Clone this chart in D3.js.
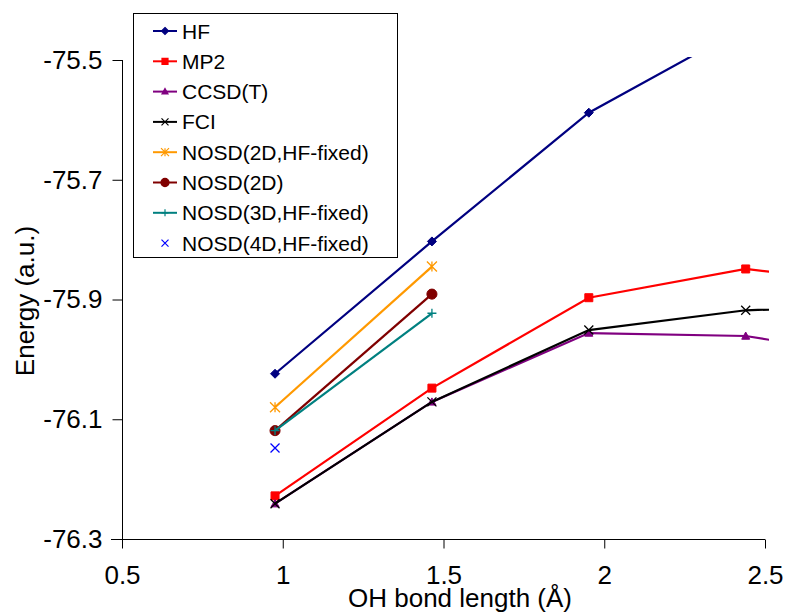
<!DOCTYPE html>
<html>
<head>
<meta charset="utf-8">
<script src="https://cdn.jsdelivr.net/npm/d3@7"></script>
<style>
  body { margin: 0; background: #fff; }
  text { font-family: "Liberation Sans", Arial, sans-serif; fill: #000; }
</style>
</head>
<body>
<div id="chart"></div>
<script>
// bond lengths (Å) and energies (a.u.)
var bondLength = [0.976, 1.464, 1.952, 2.44, 2.928];
var hf       = [-76.024, -75.803, -75.588, -75.444];
var mp2      = [-76.228, -76.048, -75.897, -75.849, -75.880];
var ccsdt    = [-76.241, -76.071, -75.956, -75.961, -76.003];
var fci      = [-76.241, -76.071, -75.951, -75.918, -75.910];
var nosd2dHF = [-76.080, -75.845];
var nosd2d   = [-76.119, -75.891];
var nosd3dHF = [-76.119, -75.923];
var nosd4dHF = [-76.148];

var xTicks = [0.5, 1, 1.5, 2, 2.5];
var yTicks = [-76.3, -76.1, -75.9, -75.7, -75.5];

var series = [
  {name: "HF", values: hf, color: "#000080", marker: "diamond", line: true},
  {name: "MP2", values: mp2, color: "#ff0000", marker: "square", line: true},
  {name: "CCSD(T)", values: ccsdt, color: "#800080", marker: "triangle", line: true},
  {name: "FCI", values: fci, color: "#000000", marker: "cross", line: true},
  {name: "NOSD(2D,HF-fixed)", values: nosd2dHF, color: "#ff9900", marker: "star", line: true},
  {name: "NOSD(2D)", values: nosd2d, color: "#800000", marker: "circle", line: true},
  {name: "NOSD(3D,HF-fixed)", values: nosd3dHF, color: "#008080", marker: "plus", line: true},
  {name: "NOSD(4D,HF-fixed)", values: nosd4dHF, color: "#0000ff", marker: "cross", line: false}
];

var width = 786, height = 612;
var plotLeft = 122, plotRight = 765, plotTop = 60, plotBottom = 539;

var svg = d3.select("#chart").append("svg")
    .attr("width", width)
    .attr("height", height);

var x = d3.scaleLinear().domain([0.5, 2.5]).range([plotLeft, plotRight]);
var y = d3.scaleLinear().domain([-76.3, -75.5]).range([plotBottom, plotTop]);

svg.append("clipPath").attr("id", "plotclip")
  .append("rect")
    .attr("x", plotLeft).attr("y", plotTop - 3)
    .attr("width", plotRight - plotLeft + 4).attr("height", plotBottom - plotTop + 3);

// axes
var yAxis = svg.append("g")
    .attr("transform", "translate(" + (plotLeft + 0.5) + ",0)")
    .call(d3.axisLeft(y).tickValues(yTicks).tickSize(10).tickPadding(10)
      .tickFormat(d => d.toFixed(1)));

var xAxis = svg.append("g")
    .attr("transform", "translate(0," + (plotBottom + 0.5) + ")")
    .call(d3.axisBottom(x).tickValues(xTicks).tickSize(9).tickPadding(12)
      .tickFormat(d => d));

[xAxis, yAxis].forEach(function(a) {
  a.select(".domain").attr("stroke", "#000").attr("stroke-width", 1);
  a.selectAll(".tick line").attr("stroke", "#000");
  a.selectAll(".tick text")
    .style("font-family", '"Liberation Sans", Arial, sans-serif')
    .style("font-size", "26px")
    .attr("fill", "#000");
});
// the y axis line runs down through the x tick
yAxis.select(".domain").attr("d", "M0," + plotTop + "V" + (plotBottom + 9));
xAxis.select(".domain").attr("d", "M" + (plotLeft - 11) + ",0H" + plotRight);
xAxis.selectAll(".tick text").attr("dy", "0.9em");

svg.append("text")
    .attr("x", 460).attr("y", 607)
    .attr("text-anchor", "middle")
    .style("font-size", "26px")
    .text("OH bond length (Å)");

svg.append("text")
    .attr("transform", "translate(34,301) rotate(-90)")
    .attr("text-anchor", "middle")
    .style("font-size", "26px")
    .text("Energy (a.u.)");

function marker(type, size) {
  var s = size / 2;
  switch (type) {
    case "diamond": return "M0," + (-s) + "L" + s + ",0L0," + s + "L" + (-s) + ",0Z";
    case "square": return "M" + (-s) + "," + (-s) + "h" + size + "v" + size + "h" + (-size) + "Z";
    case "triangle": return "M0," + (-s) + "L" + s + "," + (s * 0.8) + "L" + (-s) + "," + (s * 0.8) + "Z";
    case "cross": return "M" + (-s) + "," + (-s) + "L" + s + "," + s + "M" + (-s) + "," + s + "L" + s + "," + (-s);
    case "plus": return "M" + (-s) + ",0H" + s + "M0," + (-s) + "V" + s;
    case "star": return "M" + (-s) + "," + (-s) + "L" + s + "," + s + "M" + (-s) + "," + s + "L" + s + "," + (-s) + "M0," + (-s) + "V" + s;
    case "circle": return d3.symbol(d3.symbolCircle, size * size * 0.8)();
  }
}
var filled = {diamond: true, square: true, triangle: true, circle: true};
var mSize = {diamond: 9, square: 8, triangle: 8, cross: 9, plus: 9, star: 10, circle: 10};

var line = d3.line()
    .x((d, i) => x(bondLength[i]))
    .y(d => y(d));

var plot = svg.append("g").attr("clip-path", "url(#plotclip)");

series.forEach(function(s) {
  var g = plot.append("g");
  if (s.line) {
    g.append("path")
      .attr("d", line(s.values))
      .attr("fill", "none")
      .attr("stroke", s.color)
      .attr("stroke-width", 2.2);
  }
  g.selectAll(".pt")
    .data(s.values)
    .enter().append("path")
    .attr("class", "pt")
    .attr("transform", (d, i) => "translate(" + x(bondLength[i]) + "," + y(d) + ")")
    .attr("d", marker(s.marker, mSize[s.marker]))
    .attr("fill", filled[s.marker] ? s.color : "none")
    .attr("stroke", s.color)
    .attr("stroke-width", filled[s.marker] ? 1 : 1.3);
});

// legend
var legend = svg.append("g").attr("class", "legend");
legend.append("rect")
    .attr("x", 133.5).attr("y", 13.5)
    .attr("width", 264).attr("height", 244)
    .attr("fill", "#fff")
    .attr("stroke", "#000");

var keys = legend.selectAll(".key")
    .data(series)
    .enter().append("g")
    .attr("class", "key")
    .attr("transform", (d, i) => "translate(0," + (31 + i * 30.3) + ")");

keys.filter(d => d.line).append("line")
    .attr("x1", 153).attr("x2", 177)
    .attr("stroke", d => d.color)
    .attr("stroke-width", 2);

keys.append("path")
    .attr("transform", "translate(165,0)")
    .attr("d", d => marker(d.marker, mSize[d.marker] - 2))
    .attr("fill", d => filled[d.marker] ? d.color : "none")
    .attr("stroke", d => d.color)
    .attr("stroke-width", 1.2);

keys.append("text")
    .attr("x", 182)
    .attr("dy", "0.36em")
    .style("font-size", "21px")
    .text(d => d.name);
</script>
</body>
</html>
